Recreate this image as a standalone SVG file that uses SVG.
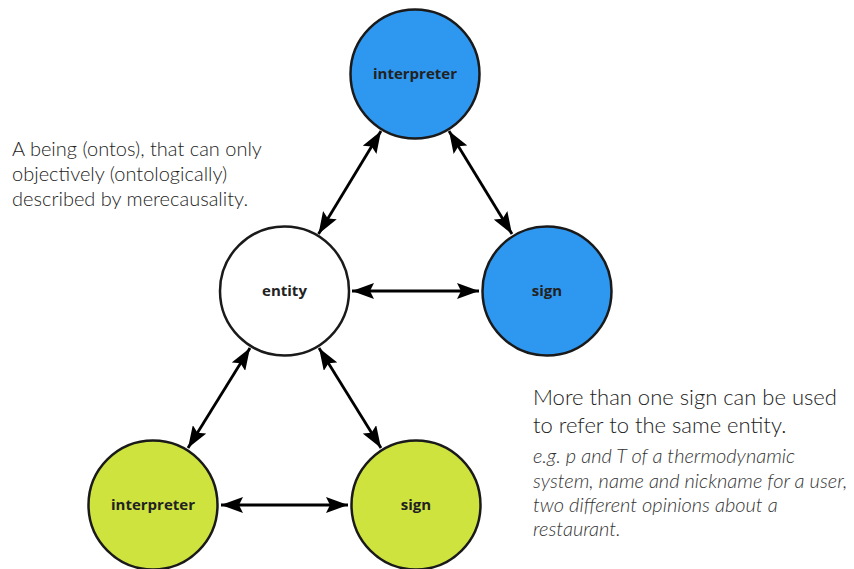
<svg xmlns="http://www.w3.org/2000/svg" width="854" height="569" viewBox="0 0 854 569">
  <style>
    .node { stroke: #1a1a1a; stroke-width: 2.5; }
    .blue { fill: #2e97ef; }
    .green { fill: #cfe33f; }
    .white { fill: #ffffff; }
    .label { font-family: "Open Sans", "Noto Sans", sans-serif; font-weight: bold; font-size: 15px; fill: #222222; text-anchor: middle; }
    .link { stroke: #000000; stroke-width: 2.8; fill: none; marker-start: url(#head); marker-end: url(#head); }
    .note { font-family: Lato, "Open Sans", sans-serif; font-weight: 300; fill: #222222; }
    .example { font-family: Lato, "Open Sans", sans-serif; font-weight: 300; font-style: italic; fill: #333333; font-size: 20px; }
  </style>
  <defs>
    <marker id="head" viewBox="0 0 22 16" refX="22" refY="8" markerWidth="22" markerHeight="16" markerUnits="userSpaceOnUse" orient="auto-start-reverse">
      <path d="M0,0 L22,8 L0,16 L4,8 Z" fill="#000000"/>
    </marker>
  </defs>

  <g id="connectors">
    <line class="link" x1="381" y1="131" x2="318.5" y2="234"/>
    <line class="link" x1="449" y1="131" x2="512" y2="234"/>
    <line class="link" x1="352" y1="291" x2="479" y2="291"/>
    <line class="link" x1="250" y1="348" x2="188" y2="448"/>
    <line class="link" x1="319" y1="348" x2="381" y2="448"/>
    <line class="link" x1="221" y1="505" x2="348" y2="505"/>
  </g>

  <g id="interpreter-top">
    <circle class="node blue" cx="415" cy="74" r="64.5"/>
    <text class="label" x="415" y="79">interpreter</text>
  </g>
  <g id="entity">
    <circle class="node white" cx="284.5" cy="291" r="64.5"/>
    <text class="label" x="284.5" y="296">entity</text>
  </g>
  <g id="sign-top">
    <circle class="node blue" cx="547" cy="291" r="64.5"/>
    <text class="label" x="547" y="296">sign</text>
  </g>
  <g id="interpreter-bottom">
    <circle class="node green" cx="153" cy="505" r="64.5"/>
    <text class="label" x="153" y="510">interpreter</text>
  </g>
  <g id="sign-bottom">
    <circle class="node green" cx="416" cy="505" r="64.5"/>
    <text class="label" x="416" y="510">sign</text>
  </g>

  <g id="entity-note" class="note" font-size="20">
    <text x="12" y="156">A being (ontos), that can only</text>
    <text x="12" y="181">objectively (ontologically)</text>
    <text x="12" y="206">described by merecausality.</text>
  </g>

  <g id="sign-note">
    <text class="note" font-size="22" x="533" y="405">More than one sign can be used</text>
    <text class="note" font-size="22" x="533" y="433">to refer to the same entity.</text>
    <text class="example" x="533" y="463">e.g. p and T of a thermodynamic</text>
    <text class="example" x="533" y="488">system, name and nickname for a user,</text>
    <text class="example" x="533" y="512">two different opinions about a</text>
    <text class="example" x="533" y="536">restaurant.</text>
  </g>
</svg>
